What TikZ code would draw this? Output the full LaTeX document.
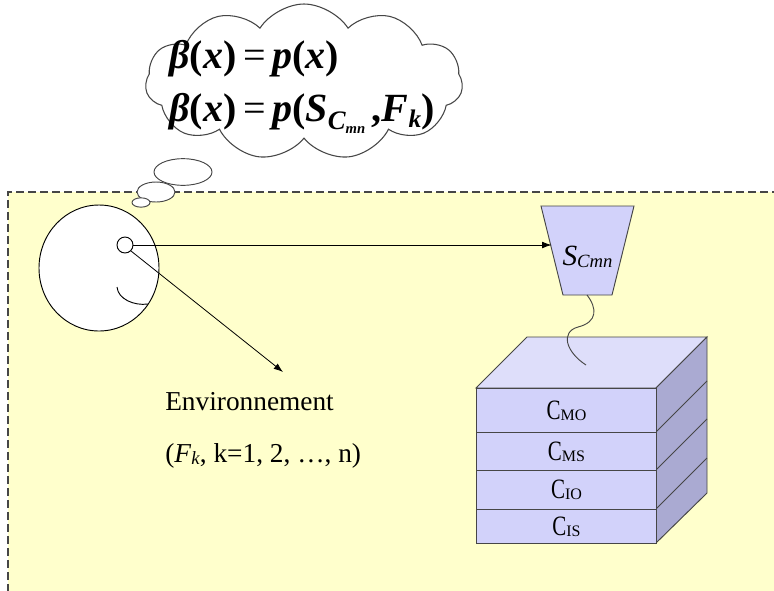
\documentclass[tikz,border=0pt]{standalone}
\usepackage{fontspec}
\setmainfont{Liberation Serif}
\usetikzlibrary{shapes.geometric,shapes.symbols,arrows.meta}
\definecolor{bgyellow}{RGB}{255,255,204}
\definecolor{frontc}{RGB}{210,210,250}
\definecolor{topc}{RGB}{222,222,250}
\definecolor{sidec}{RGB}{170,170,210}
\definecolor{edgec}{RGB}{70,70,70}
\newcommand\bi[1]{{\bfseries\itshape #1}}
\newcommand\fs[1]{\fontsize{#1}{#1}\selectfont}
\newcommand\clab[1]{\scalebox{0.75}[1]{\fs{21}C}\raisebox{-1pt}{\fs{12}#1}}
\begin{document}
\begin{tikzpicture}[x=0.75pt,y=-0.75pt,
  bubble/.style={ellipse,draw=edgec,line width=0.7pt,fill=white,inner sep=0pt},
  layer/.style={rectangle,draw=edgec,line width=0.7pt,fill=frontc,minimum width=135pt,inner sep=0pt,anchor=north west},
  arr/.style={line width=0.6pt,-{Latex[length=7pt,width=5pt]}},
  txt/.style={inner sep=0pt,font=\fs{20.5}}]
\useasboundingbox (0,0) rectangle (774,590);
% background
\fill[bgyellow] (8,192) rectangle (776,592);
\draw[edgec,line width=0.8pt,dash pattern=on 6pt off 3pt] (8,592) -- (8,192) -- (776,192);
% cloud
\node[cloud,cloud puffs=11,cloud puff arc=115,aspect=2.1,draw=edgec,line width=0.8pt,fill=white,
  minimum width=238pt,minimum height=117pt,inner sep=0pt] (cloud) at (304,82) {};
\node[bubble,minimum width=43.5pt,minimum height=20pt] (b3) at (183,172) {};
\node[bubble,minimum width=28.5pt,minimum height=15pt] (b2) at (156,192) {};
\node[bubble,minimum width=13.5pt,minimum height=7pt] (b1) at (141,202.5) {};
\node[txt,anchor=base west,font=\fs{30}] (f1) at (169,68)
  {\bi{β}\textbf{(}\bi{x}\textbf{)}\,=\,\bi{p}\textbf{(}\bi{x}\textbf{)}};
\node[txt,anchor=base west,font=\fs{30}] (f2) at (169,121)
  {\bi{β}\textbf{(}\bi{x}\textbf{)}\,=\,\bi{p}\textbf{(}\bi{S}\raisebox{-6pt}{\fs{20}\bi{C}\raisebox{-3pt}{\fs{11}\bi{mn}}}\,\textbf{,}\bi{F}\raisebox{-5pt}{\fs{19}\bi{k}}\textbf{)}};
% head
\node[ellipse,draw=black,line width=0.7pt,fill=white,minimum width=90pt,minimum height=94.5pt,inner sep=0pt] (head) at (99,268) {};
\node[circle,draw=black,line width=0.7pt,fill=white,minimum size=12pt,inner sep=0pt] (eye) at (125,245) {};
\draw[line width=0.7pt] (117,287) .. controls (118,299) and (134,306) .. (148,304);
% sensor
\draw[edgec,line width=0.7pt,fill=frontc] (541,206) -- (634,206) -- (612,295) -- (563,295) -- cycle;
\node[inner sep=0pt] (sensor) at (587.5,257) {\fs{22}\textit{S}\raisebox{-1pt}{\fs{14}\textit{Cmn}}};
\coordinate (sensorin) at (551.5,245);
\coordinate (sensorbot) at (587,295);
\draw[arr] (eye.east) -- (sensorin);
\coordinate (envpt) at (283,372);
\draw[arr] (eye.south east) -- (envpt);
% environment text
\node[txt,anchor=base west] (env) at (165,410) {Environnement};
\node[txt,anchor=base west] (fk) at (165,462) {(\textit{F}\raisebox{-2pt}{\fs{14}\textit{k}}, k=1, 2, …, n)};
% box
\fill[topc,draw=edgec,line width=0.7pt] (476,388) -- (527,337) -- (707,337) -- (656,388) -- cycle;
\fill[sidec,draw=edgec,line width=0.7pt] (656,388) -- (707,337) -- (707,493) -- (656,543) -- cycle;
\draw[edgec,line width=0.7pt] (656,432) -- (707,381) (656,470) -- (707,419) (656,509) -- (707,458);
\node[layer,minimum height=33pt] (l1) at (476,388) {\clab{MO}};
\node[layer,minimum height=28.5pt] (l2) at (476,432) {\clab{MS}};
\node[layer,minimum height=29.25pt] (l3) at (476,470) {\clab{IO}};
\node[layer,minimum height=25.5pt] (l4) at (476,509) {\clab{IS}};
% wire
\coordinate (wireend) at (586,365);
\draw[edgec,line width=0.7pt] (sensorbot) .. controls (597,308) and (598,322) .. (578,327)
  .. controls (560,332) and (566,352) .. (wireend);
\end{tikzpicture}
\end{document}
